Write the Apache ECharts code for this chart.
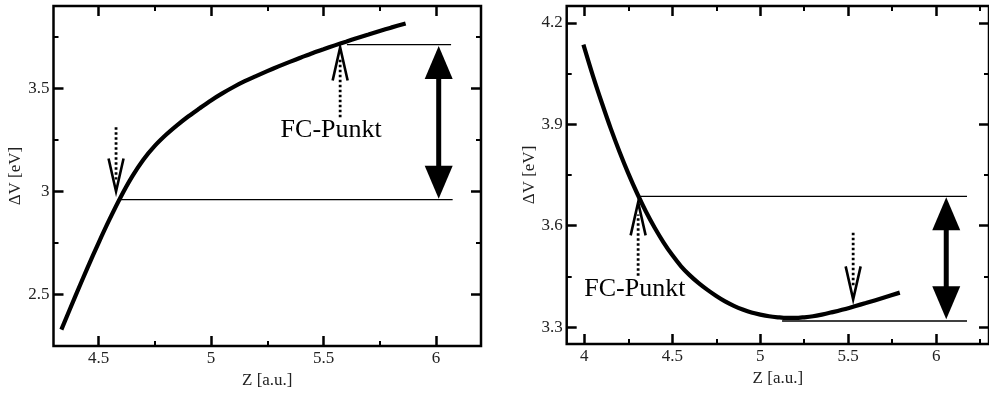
<!DOCTYPE html>
<html><head><meta charset="utf-8">
<script src="https://cdn.jsdelivr.net/npm/echarts@6/dist/echarts.min.js"></script>
<style>html,body{margin:0;padding:0;background:#fff}#c{width:989px;height:394px}</style>
</head><body><div id="c"></div>
<script>
// ---- data ----
const leftX  = [4.335, 4.40, 4.45, 4.50, 4.55, 4.60, 4.65, 4.70, 4.75, 4.80, 4.85, 4.90, 4.95, 5.00, 5.05, 5.10, 5.15, 5.20, 5.25, 5.30, 5.35, 5.40, 5.45, 5.50, 5.55, 5.60, 5.65, 5.70, 5.75, 5.80, 5.865];
const leftY  = [2.33, 2.500, 2.627, 2.750, 2.867, 2.976, 3.073, 3.155, 3.221, 3.275, 3.322, 3.365, 3.404, 3.442, 3.476, 3.507, 3.535, 3.560, 3.584, 3.607, 3.629, 3.650, 3.671, 3.690, 3.709, 3.727, 3.745, 3.762, 3.779, 3.795, 3.815];
const rightX = [3.995, 4.05, 4.10, 4.15, 4.20, 4.25, 4.30, 4.35, 4.40, 4.45, 4.50, 4.55, 4.60, 4.65, 4.70, 4.75, 4.80, 4.85, 4.90, 4.95, 5.00, 5.05, 5.10, 5.15, 5.20, 5.25, 5.30, 5.35, 5.40, 5.50, 5.60, 5.70, 5.793];
const rightY = [4.136, 4.042, 3.963, 3.888, 3.819, 3.755, 3.696, 3.642, 3.594, 3.551, 3.513, 3.480, 3.453, 3.430, 3.410, 3.392, 3.376, 3.363, 3.352, 3.343, 3.337, 3.332, 3.329, 3.327, 3.327, 3.329, 3.332, 3.337, 3.343, 3.356, 3.371, 3.387, 3.402];

const leftXTicks = [4.5, 5, 5.5, 6];
const leftXMinor = [4.75, 5.25, 5.75];
const leftYTicks = [2.5, 3, 3.5];
const leftYMinor = [2.75, 3.25, 3.75];
const rightXTicks = [4, 4.5, 5, 5.5, 6];
const rightXMinor = [4.25, 4.75, 5.25, 5.75, 6.25];
const rightYTicks = [3.3, 3.6, 3.9, 4.2];
const rightYMinor = [3.45, 3.75, 4.05];

// horizontal level lines: [xStart, y, xEnd]
const leftLevels  = [[4.586, 2.961, 6.074], [5.604, 3.713, 6.067]];
const rightLevels = [[4.306, 3.687, 6.175], [5.124, 3.318, 6.175]];
// dotted arrows: [x, yFrom, yTip]
const leftDotArrows  = [[4.578, 3.312, 3.0], [5.574, 3.36, 3.699]];
const rightDotArrows = [[4.306, 3.452, 3.669], [5.528, 3.579, 3.382]];
// double arrows: [x, yTop, yBottom]
const leftDouble  = [[6.012, 3.706, 2.965]];
const rightDouble = [[6.057, 3.684, 3.323]];
// text labels: [x, y, text]
const leftText  = [[5.534, 3.298, 'FC-Punkt']];
const rightText = [[4.287, 3.411, 'FC-Punkt']];

const FONT = 'Liberation Serif';
const chart = echarts.init(document.getElementById('c'));

function zip(a, b) { return a.map((v, i) => [v, b[i]]); }

function axesFor(dim, grid, min, max, major, minor, withLabels) {
  const out = [];
  const posA = dim === 'x' ? 'bottom' : 'left';
  const posB = dim === 'x' ? 'top' : 'right';
  const base = {
    type: 'value', gridIndex: grid, min: min, max: max,
    axisLine: { show: false }, splitLine: { show: false }
  };
  out.push(Object.assign({}, base, {
    position: posA,
    name: dim === 'x' ? 'Z [a.u.]' : '\u0394V [eV]',
    nameLocation: 'middle',
    nameGap: dim === 'x' ? 21 : 24,
    nameTextStyle: { fontFamily: FONT, fontSize: 17, color: '#222' },
    axisTick: { show: true, inside: true, length: 10, customValues: major, lineStyle: { color: '#000', width: 2.5 } },
    axisLabel: { show: withLabels, customValues: major, fontFamily: FONT, fontSize: 17, color: '#222', margin: 4 }
  }));
  out.push(Object.assign({}, base, {
    position: posA,
    axisTick: { show: true, inside: true, length: 5, customValues: minor, lineStyle: { color: '#000', width: 2 } },
    axisLabel: { show: false }
  }));
  out.push(Object.assign({}, base, {
    position: posB,
    axisTick: { show: true, inside: true, length: 10, customValues: major, lineStyle: { color: '#000', width: 2.5 } },
    axisLabel: { show: false }
  }));
  out.push(Object.assign({}, base, {
    position: posB,
    axisTick: { show: true, inside: true, length: 5, customValues: minor, lineStyle: { color: '#000', width: 2 } },
    axisLabel: { show: false }
  }));
  return out;
}

const xAxes = [].concat(
  axesFor('x', 0, 4.3, 6.2, leftXTicks, leftXMinor, true),
  axesFor('x', 1, 3.9, 6.3, rightXTicks, rightXMinor, true)
);
const yAxes = [].concat(
  axesFor('y', 0, 2.25, 3.9, leftYTicks, leftYMinor, true),
  axesFor('y', 1, 3.25, 4.25, rightYTicks, rightYMinor, true)
);

function levelItem(params, api) {
  const a = api.coord([api.value(0), api.value(1)]);
  const b = api.coord([api.value(2), api.value(1)]);
  return { type: 'line', shape: { x1: a[0], y1: a[1], x2: b[0], y2: b[1] }, style: { stroke: '#000', lineWidth: 1.3 } };
}
function dotArrowItem(params, api) {
  const x = api.value(0);
  const p0 = api.coord([x, api.value(1)]);
  const p1 = api.coord([x, api.value(2)]);
  const dir = p1[1] > p0[1] ? 1 : -1;
  const hl = 33, hw = 7.5;
  return { type: 'group', children: [
    { type: 'line', shape: { x1: p0[0], y1: p0[1], x2: p1[0], y2: p1[1] - dir * 12 },
      style: { stroke: '#000', lineWidth: 2.8, lineDash: [2.5, 2.5] } },
    { type: 'polyline', shape: { points: [[p1[0] - hw, p1[1] - dir * hl], [p1[0], p1[1]], [p1[0] + hw, p1[1] - dir * hl]] },
      style: { stroke: '#000', lineWidth: 2.6, fill: null } }
  ] };
}
function doubleArrowItem(params, api) {
  const x = api.value(0);
  const t = api.coord([x, api.value(1)]);
  const b = api.coord([x, api.value(2)]);
  const hl = 33, hw = 14;
  return { type: 'group', children: [
    { type: 'line', shape: { x1: t[0], y1: t[1] + hl - 2, x2: b[0], y2: b[1] - hl + 2 }, style: { stroke: '#000', lineWidth: 5 } },
    { type: 'polygon', shape: { points: [[t[0], t[1]], [t[0] - hw, t[1] + hl], [t[0] + hw, t[1] + hl]] }, style: { fill: '#000' } },
    { type: 'polygon', shape: { points: [[b[0], b[1]], [b[0] - hw, b[1] - hl], [b[0] + hw, b[1] - hl]] }, style: { fill: '#000' } }
  ] };
}
function textItem(params, api) {
  const p = api.coord([api.value(0), api.value(1)]);
  return { type: 'text', x: p[0], y: p[1], style: { text: api.value(2), fontFamily: FONT, fontSize: 26, fill: '#000', align: 'center', verticalAlign: 'middle' } };
}

function seriesFor(gi, cx, cy, levels, dots, dbl, txt) {
  const xi = gi * 4, yi = gi * 4;
  const common = { xAxisIndex: xi, yAxisIndex: yi, coordinateSystem: 'cartesian2d', silent: true, animation: false };
  return [
    Object.assign({ type: 'custom', renderItem: levelItem, data: levels, encode: { x: [0, 2], y: 1 }, z: 2 }, common),
    Object.assign({ type: 'line', data: zip(cx, cy), smooth: 0.3, showSymbol: false, lineStyle: { color: '#000', width: 4.2 }, z: 3 }, common),
    Object.assign({ type: 'custom', renderItem: dotArrowItem, data: dots, encode: { x: 0, y: [1, 2] }, z: 4 }, common),
    Object.assign({ type: 'custom', renderItem: doubleArrowItem, data: dbl, encode: { x: 0, y: [1, 2] }, z: 4 }, common),
    Object.assign({ type: 'custom', renderItem: textItem, data: txt, encode: { x: 0, y: 1 }, z: 5 }, common)
  ];
}

chart.setOption({
  animation: false,
  backgroundColor: '#fff',
  grid: [
    { left: 53.5, top: 6, width: 427.5, height: 341, show: true, borderColor: '#000', borderWidth: 2.5, containLabel: false },
    { left: 566.7, top: 6, width: 424.5, height: 338, show: true, borderColor: '#000', borderWidth: 2.5, containLabel: false }
  ],
  xAxis: xAxes,
  yAxis: yAxes,
  series: [].concat(
    seriesFor(0, leftX, leftY, leftLevels, leftDotArrows, leftDouble, leftText),
    seriesFor(1, rightX, rightY, rightLevels, rightDotArrows, rightDouble, rightText)
  )
});
</script></body></html>
